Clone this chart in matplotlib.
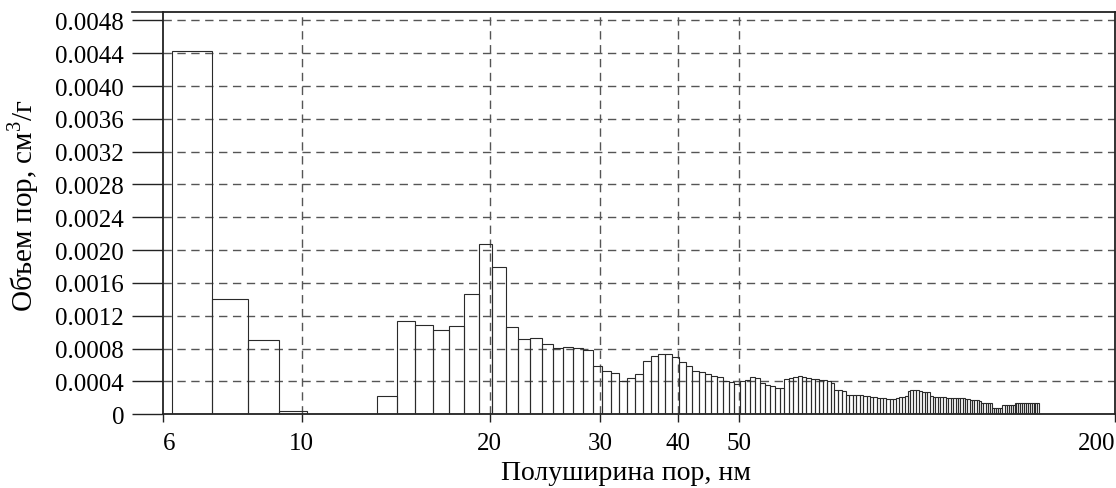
import matplotlib.pyplot as plt
import numpy as np

# pore half-width bins (nm), 1 nm wide, left edge of first bin and count
first_edge = 6.2
bin_width = 1.0

# pore volume per bin, cm3/g
volume = [
    0.00443, 0.00140, 0.00090, 0.00004, 0.0, 0.0, 0.0, 0.00022,   # 6.2 - 13.2
    0.00113, 0.00109, 0.00103, 0.00107, 0.00146, 0.00207, 0.00180,  # 14.2 - 20.2
    0.00106, 0.00092, 0.00093, 0.00086, 0.00081, 0.00082, 0.00081,  # 21.2 - 27.2
    0.00078, 0.00059, 0.00053, 0.00050, 0.00040, 0.00044, 0.00049,  # 28.2 - 34.2
    0.00065, 0.00071, 0.00073, 0.00073, 0.00070, 0.00064, 0.00059,  # 35.2 - 41.2
    0.00053, 0.00051, 0.00049, 0.00047, 0.00045, 0.00040, 0.00039,  # 42.2 - 48.2
    0.00037, 0.00041, 0.00042, 0.00045, 0.00044, 0.00038, 0.00036,  # 49.2 - 55.2
    0.00034, 0.00032, 0.00032, 0.00043, 0.00044, 0.00045, 0.00046,  # 56.2 - 62.2
    0.00045, 0.00044, 0.00043, 0.00043, 0.00042, 0.00042, 0.00041,  # 63.2 - 69.2
    0.00038, 0.00029, 0.00029, 0.00028, 0.00023, 0.00023, 0.00023,  # 70.2 - 76.2
    0.00023, 0.00023, 0.00022, 0.00022, 0.00021, 0.00021, 0.00020,  # 77.2 - 83.2
    0.00020, 0.00020, 0.00019, 0.00019, 0.00019, 0.00020, 0.00021,  # 84.2 - 90.2
    0.00021, 0.00022, 0.00028, 0.00029, 0.00029, 0.00029, 0.00028,  # 91.2 - 97.2
    0.00027, 0.00027, 0.00027, 0.00022, 0.00021, 0.00021, 0.00021,  # 98.2 - 104.2
    0.00021, 0.00021, 0.00020, 0.00020, 0.00020, 0.00020, 0.00020,  # 105.2 - 111.2
    0.00020, 0.00020, 0.00020, 0.00019, 0.00018, 0.00017, 0.00017,  # 112.2 - 118.2
    0.00017, 0.00017, 0.00016, 0.00013, 0.00013, 0.00013, 0.00013,  # 119.2 - 125.2
    0.00013, 0.00008, 0.00008, 0.00008, 0.00008, 0.00008, 0.00011,  # 126.2 - 132.2
    0.00011, 0.00011, 0.00011, 0.00011, 0.00011, 0.00014, 0.00014,  # 133.2 - 139.2
    0.00014, 0.00014, 0.00014, 0.00014, 0.00014, 0.00014, 0.00013,  # 140.2 - 146.2
    0.00013, 0.00013, 0.00013, 0.00013,                             # 147.2 - 150.2
]

x_ticks = [6, 10, 20, 30, 40, 50, 200]
x_grid = [10, 20, 30, 40, 50]
y_ticks = [0, 0.0004, 0.0008, 0.0012, 0.0016, 0.0020, 0.0024,
           0.0028, 0.0032, 0.0036, 0.0040, 0.0044, 0.0048]
y_tick_labels = ['0'] + ['{:.4f}'.format(v) for v in y_ticks[1:]]

x_label = 'Полуширина пор, нм'
y_label = 'Объем пор, см$^3$/г'

plt.rcParams['font.family'] = ['Liberation Serif', 'DejaVu Serif']
plt.rcParams['mathtext.fontset'] = 'custom'
plt.rcParams['mathtext.rm'] = 'Liberation Serif'

left_edges = first_edge + bin_width * np.arange(len(volume))

fig = plt.figure(figsize=(11.16, 4.89), dpi=100)
ax = fig.add_axes([0.146, 0.151, 0.853, 0.822])

ax.bar(left_edges, volume, width=bin_width, align='edge', fill=False,
       edgecolor='#2a2a2a', linewidth=0.8, zorder=3)

ax.set_xscale('log')
ax.set_xlim(6, 200)
ax.set_ylim(0, 0.0049)

# dashed grid
for v in y_ticks[1:]:
    ax.axhline(v, color='#555555', linewidth=1.0, linestyle=(0, (6, 4)), zorder=1)
for v in x_grid:
    ax.axvline(v, color='#555555', linewidth=1.0, linestyle=(0, (6, 4)), zorder=1)

ax.set_xticks(x_ticks)
ax.set_xticklabels([str(v) for v in x_ticks])
ax.xaxis.set_minor_locator(plt.NullLocator())
ax.set_yticks(y_ticks)
ax.set_yticklabels(y_tick_labels)

ax.tick_params(axis='y', direction='out', length=22, width=1.0, pad=6,
               labelsize=18, color='#222222')
ax.tick_params(axis='x', direction='out', length=6, width=1.0, pad=7,
               labelsize=18, color='#222222')

# end labels sit inside the axis ends
xt = ax.get_xticklabels()
xt[0].set_horizontalalignment('left')
xt[-1].set_horizontalalignment('right')

# top border runs a bit past the left axis, as in the original
ax.plot([-0.033, 0], [1, 1], transform=ax.transAxes, color='#222222',
        linewidth=1.2, clip_on=False)

for s in ax.spines.values():
    s.set_linewidth(1.3)
    s.set_color('#222222')

ax.set_xlabel(x_label, fontsize=20)
ax.xaxis.set_label_coords(0.486, -0.115)
ax.set_ylabel(y_label, fontsize=21)
ax.yaxis.set_label_coords(-0.128, 0.52)

fig.savefig('out.png', dpi=100)
